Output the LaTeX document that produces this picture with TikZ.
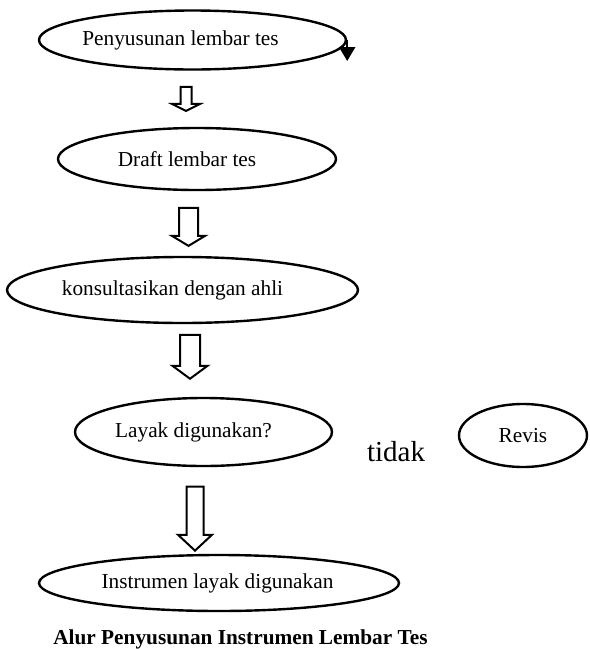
\documentclass[tikz,border=0pt]{standalone}
\usepackage{fontspec}
\setmainfont{Liberation Serif}
\usetikzlibrary{shapes.geometric,shapes.arrows,arrows.meta}
\tikzset{
  stage/.style={draw,ellipse,line width=2.4pt,inner sep=0pt},
  lbl/.style={font=\fontsize{21.3}{25}\selectfont,inner sep=0pt},
  blockarr/.style={draw,single arrow,rotate=-90,anchor=tip,fill=white,line width=2pt,inner xsep=0pt,minimum width=0pt},
  headarr/.style={-{Triangle[width=16pt,length=14pt]},line width=2.4pt},
}
\begin{document}
\begin{tikzpicture}[x=1pt,y=-1pt]
\useasboundingbox (0,0) rectangle (590,649);
% stages
\node[stage,minimum width=307pt,minimum height=59pt,label={[lbl,xshift=-12pt]center:Penyusunan lembar tes}] (penyusunan) at (192.5,40) {};
\node[stage,minimum width=278pt,minimum height=62pt,label={[lbl,xshift=-10pt]center:Draft lembar tes}] (draft) at (197,159) {};
\node[stage,minimum width=351pt,minimum height=66pt,label={[lbl,xshift=-10pt]center:konsultasikan dengan ahli}] (konsultasi) at (182.5,290) {};
\node[stage,minimum width=257pt,minimum height=68pt,label={[lbl,xshift=-10pt]center:Layak digunakan?}] (layak) at (203.5,432) {};
\node[stage,minimum width=128pt,minimum height=63pt,label={[lbl]center:Revis}] (revis) at (523,435.5) {};
\node[stage,minimum width=360pt,minimum height=56pt,label={[lbl,xshift=-1.5pt]center:Instrumen layak digunakan}] (instrumen) at (219,583) {};
\node[font=\fontsize{29}{34}\selectfont] (tidak) at (396,452) {tidak};
\node[font=\bfseries\fontsize{21.3}{25}\selectfont,anchor=base] (judul) at (240.5,644) {Alur Penyusunan Instrumen Lembar Tes};
% block arrows
\node[blockarr,minimum height=24pt,inner ysep=4.5pt,single arrow head extend=8.5pt,single arrow tip angle=127] (panah1) at (186,112) {};
\node[blockarr,minimum height=38pt,inner ysep=8.5pt,single arrow head extend=7pt,single arrow tip angle=118] (panah2) at (188.5,247) {};
\node[blockarr,minimum height=44pt,inner ysep=9pt,single arrow head extend=7.5pt,single arrow tip angle=107] (panah3) at (190,380) {};
\node[blockarr,minimum height=64pt,inner ysep=7.5pt,single arrow head extend=8.5pt,single arrow tip angle=94] (panah4) at (195,552) {};
% loose arrow head
\draw[headarr] (penyusunan.east) -- ++(0,21);
\end{tikzpicture}
\end{document}
